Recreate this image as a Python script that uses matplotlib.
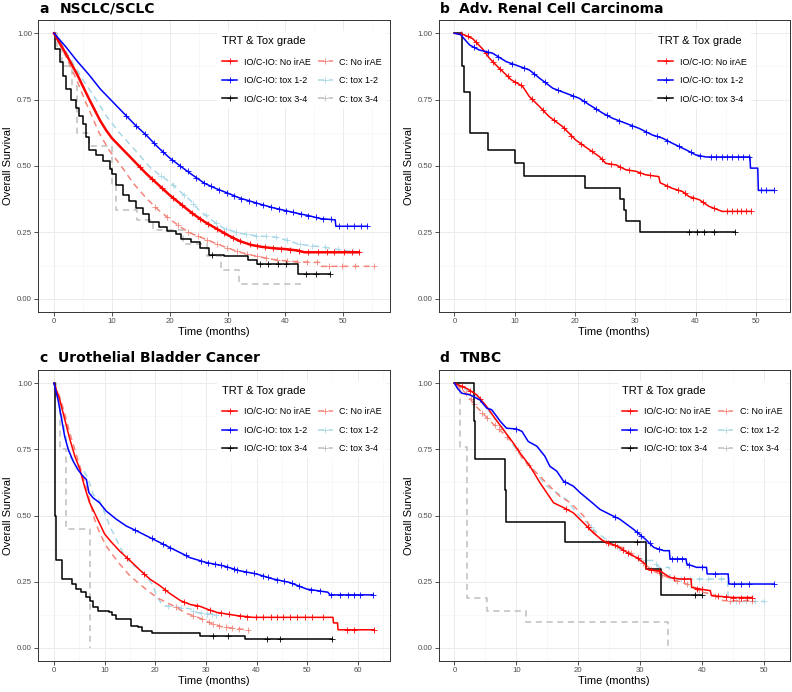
import numpy as np
import matplotlib
matplotlib.use("Agg")
import matplotlib.pyplot as plt
from matplotlib.lines import Line2D

plt.rcParams["font.family"] = ["Liberation Sans", "DejaVu Sans"]

# ---------------- Panel a: NSCLC/SCLC ----------------
a_red_t = [0, 2, 4, 6, 8, 9, 10, 12, 14, 16, 18, 20, 22, 24, 26, 28, 30, 32, 34, 36, 38, 40, 42, 43.3, 52.7]
a_red_s = [1.0, 0.925, 0.845, 0.755, 0.67, 0.635, 0.605, 0.56, 0.515, 0.47, 0.43, 0.39, 0.355, 0.32, 0.29, 0.265, 0.24, 0.218, 0.203, 0.195, 0.19, 0.187, 0.182, 0.175, 0.175]
a_red_c = [14.8, 16.9, 18.7, 20.6, 22.1, 23.8, 25.2, 26.6, 28.1, 29.4, 30.9, 32.2, 33.8, 35.1, 36.4, 37.9, 39.2, 40.8, 42.3, 43.9, 45.6, 47.1, 48.4, 50.2, 51.5, 52.7]

a_blue_t = [0, 2, 4, 6, 8, 10, 12, 14, 16, 18, 20, 22, 24, 26, 28, 30, 32, 34, 36, 38, 40, 42, 44, 46, 48.6, 48.7, 54.1]
a_blue_s = [1.0, 0.95, 0.895, 0.845, 0.79, 0.745, 0.7, 0.655, 0.615, 0.57, 0.53, 0.497, 0.465, 0.435, 0.415, 0.398, 0.38, 0.367, 0.354, 0.342, 0.332, 0.322, 0.313, 0.302, 0.297, 0.273, 0.273]
a_blue_c = [12.5, 14.2, 15.8, 17.3, 18.9, 20.4, 21.8, 23.1, 24.6, 25.9, 27.2, 28.6, 29.9, 31.1, 32.4, 33.7, 34.9, 36.2, 37.5, 38.8, 40.1, 41.3, 42.6, 43.9, 45.2, 46.5, 47.8, 49.3, 50.6, 51.8, 53.0, 54.1]

a_black_t = [0, 0.1, 1, 1.5, 2.1, 3, 3.8, 4.4, 5, 5.6, 6.1, 7.3, 8.4, 9.6, 10.1, 10.7, 11.9, 13, 14.1, 15.3, 16.4, 18.2, 19.5, 21, 22, 23.6, 25.3, 26.7, 29.3, 33.6, 35, 42.1, 47.7]
a_black_s = [1.0, 0.94, 0.89, 0.84, 0.79, 0.75, 0.72, 0.69, 0.66, 0.61, 0.56, 0.54, 0.52, 0.49, 0.47, 0.43, 0.39, 0.37, 0.34, 0.32, 0.29, 0.27, 0.255, 0.244, 0.225, 0.212, 0.19, 0.166, 0.16, 0.147, 0.129, 0.095, 0.095]
a_black_c = [27.3, 35.6, 37.0, 38.7, 40.1, 43.6, 45.3, 47.7]

a_salmon_t = [0, 2, 4, 5.3, 7.8, 9.5, 11.6, 13.7, 15.9, 18, 20, 22, 23.6, 26.4, 29.3, 32.1, 35, 37.9, 40.7, 44.7, 46.0, 46.1, 55.3]
a_salmon_s = [1.0, 0.915, 0.82, 0.75, 0.625, 0.56, 0.5, 0.435, 0.38, 0.335, 0.3, 0.268, 0.247, 0.222, 0.197, 0.175, 0.16, 0.148, 0.141, 0.137, 0.137, 0.122, 0.122]
a_salmon_c = [17.5, 19.6, 21.4, 23.2, 24.9, 26.5, 28.2, 29.9, 31.6, 33.3, 35.0, 36.7, 38.5, 40.2, 42.0, 43.8, 45.5, 47.6, 49.8, 52.0, 55.3]

a_lblue_t = [0, 1, 3.6, 5, 7.3, 9, 11.3, 14, 16.4, 18, 20, 22, 23.6, 25, 27, 29.3, 32, 35, 38, 40, 42.4, 46.4, 50, 51.6]
a_lblue_s = [1.0, 0.97, 0.875, 0.825, 0.75, 0.69, 0.625, 0.56, 0.5, 0.47, 0.44, 0.4, 0.37, 0.335, 0.3, 0.266, 0.247, 0.237, 0.233, 0.222, 0.205, 0.195, 0.182, 0.178]
a_lblue_c = [18.5, 20.5, 22.5, 24.1, 26.2, 28.0, 29.8, 31.5, 33.2, 34.9, 36.6, 38.4, 40.3, 42.5, 44.6, 46.8, 49.0, 51.6]

a_gray_t = [0, 0.6, 1.4, 3.1, 4.0, 6.0, 10.0, 10.8, 14.3, 17.1, 22.3, 26.5, 28.8, 31.9, 42.6]
a_gray_s = [1.0, 0.95, 0.875, 0.8, 0.625, 0.575, 0.43, 0.335, 0.295, 0.26, 0.205, 0.16, 0.11, 0.054, 0.054]

# ---------------- Panel b: Adv. Renal Cell Carcinoma ----------------
b_red_t = [0, 1.5, 3, 4.7, 5.8, 6.9, 8, 9.4, 11.3, 12.4, 14.1, 15.7, 17.9, 20.1, 22.4, 24, 25.1, 26.8, 28.4, 30.1, 31.7, 33.9, 34.1, 36.1, 37.8, 38.9, 40.6, 42.2, 44.4, 49.1]
b_red_s = [1.0, 0.995, 0.98, 0.94, 0.906, 0.88, 0.856, 0.825, 0.8, 0.762, 0.724, 0.686, 0.649, 0.598, 0.561, 0.536, 0.51, 0.504, 0.486, 0.48, 0.467, 0.46, 0.437, 0.416, 0.404, 0.385, 0.373, 0.348, 0.329, 0.329]
b_red_c = [1.0, 2.2, 3.5, 5.2, 6.4, 7.5, 8.8, 10.0, 11.0, 12.8, 14.6, 16.5, 18.2, 19.4, 21.0, 22.8, 24.4, 26.0, 27.5, 29.0, 30.8, 32.5, 35.2, 37.0, 38.2, 39.6, 41.2, 43.0, 45.2, 46.0, 46.8, 47.6, 48.4, 49.1]

b_blue_t = [0, 1, 2.5, 4.1, 6.3, 8.6, 10.2, 12.4, 14.1, 16.3, 18.5, 20.7, 22.4, 24.6, 26.2, 28.4, 30.6, 32.8, 34.5, 36.1, 38.4, 40, 41.7, 49.0, 49.1, 50.3, 50.4, 53.0]
b_blue_s = [1.0, 0.995, 0.956, 0.937, 0.925, 0.893, 0.88, 0.862, 0.831, 0.793, 0.774, 0.755, 0.73, 0.699, 0.68, 0.661, 0.642, 0.617, 0.605, 0.586, 0.561, 0.542, 0.534, 0.534, 0.492, 0.492, 0.408, 0.408]
b_blue_c = [3.2, 5.5, 7.3, 9.5, 11.5, 13.2, 15.0, 17.2, 19.6, 21.5, 23.5, 25.3, 27.3, 29.5, 31.7, 33.6, 35.3, 37.2, 39.2, 40.8, 42.5, 43.4, 44.3, 45.2, 46.1, 47.0, 47.9, 48.8, 50.9, 51.6, 53.0]

b_black_t = [0, 1.27, 1.66, 2.6, 5.6, 10.1, 11.5, 21.7, 27.5, 28.1, 28.5, 30.8, 46.6]
b_black_s = [1.0, 0.875, 0.778, 0.624, 0.561, 0.511, 0.461, 0.417, 0.376, 0.335, 0.294, 0.25, 0.25]
b_black_c = [38.9, 40.3, 41.4, 43.0, 46.6]

# ---------------- Panel c: Urothelial Bladder Cancer ----------------
c_red_t = [0, 1.1, 2.1, 3.1, 4.1, 5.1, 6.1, 7, 8, 9, 10, 11.3, 13, 15, 16.9, 18.9, 20.9, 22.9, 25, 27, 28.8, 30.1, 32.1, 34, 36, 39.3, 55.1, 55.2, 56, 56.1, 63.2]
c_red_s = [1.0, 0.94, 0.865, 0.79, 0.725, 0.675, 0.605, 0.55, 0.51, 0.47, 0.43, 0.4, 0.365, 0.33, 0.295, 0.26, 0.235, 0.205, 0.178, 0.163, 0.157, 0.147, 0.134, 0.128, 0.122, 0.115, 0.115, 0.094, 0.094, 0.068, 0.068]
c_red_c = [14.5, 17.8, 22.0, 25.7, 28.2, 30.8, 32.9, 34.5, 36.8, 38.2, 39.8, 41.2, 42.8, 44.1, 45.3, 46.7, 48.0, 49.5, 51.0, 53.2, 57.8, 59.2, 63.2]

c_blue_t = [0, 0.8, 1.4, 2.1, 2.8, 3.8, 4.7, 5.7, 6.4, 6.9, 7.7, 9, 10.3, 12.3, 14.3, 16.3, 18.9, 20.9, 23.5, 25.5, 26.8, 30.1, 33.4, 36.7, 40, 43.3, 46.5, 49.9, 54.1, 54.5, 63]
c_blue_s = [1.0, 0.937, 0.875, 0.8, 0.75, 0.705, 0.674, 0.649, 0.636, 0.586, 0.567, 0.548, 0.517, 0.486, 0.46, 0.442, 0.417, 0.398, 0.373, 0.354, 0.341, 0.322, 0.31, 0.291, 0.279, 0.26, 0.247, 0.222, 0.21, 0.2, 0.2]
c_blue_c = [16.0, 19.3, 21.5, 23.0, 26.0, 29.0, 30.5, 31.8, 33.0, 34.2, 35.5, 36.2, 38.0, 39.5, 41.3, 42.2, 44.0, 45.5, 47.0, 48.3, 50.8, 52.5, 54.8, 56.5, 58.0, 59.3, 60.5, 63.0]

c_black_t = [0, 0.15, 0.3, 0.45, 1.6, 3.5, 4.3, 5.3, 6.3, 7.1, 7.7, 8.6, 10.9, 11.5, 12.2, 15.2, 16.6, 17.4, 19.4, 28.8, 37.7, 55.0]
c_black_s = [1.0, 0.5, 0.375, 0.33, 0.26, 0.24, 0.222, 0.21, 0.191, 0.178, 0.153, 0.14, 0.134, 0.122, 0.109, 0.084, 0.078, 0.065, 0.056, 0.044, 0.034, 0.034]
c_black_c = [31.4, 34.4, 42.0, 44.6, 55.0]

c_salmon_t = [0, 1.1, 2.1, 3.1, 4.1, 5.1, 6.1, 7, 8, 9, 10.3, 11.7, 13, 15, 16.9, 18.9, 20.9, 23.5, 26.2, 28.8, 30, 33, 36, 38.3]
c_salmon_s = [1.0, 0.95, 0.887, 0.812, 0.75, 0.686, 0.624, 0.56, 0.486, 0.435, 0.385, 0.348, 0.316, 0.272, 0.241, 0.21, 0.184, 0.159, 0.13, 0.112, 0.1, 0.08, 0.072, 0.068]
c_salmon_c = [24.0, 27.5, 29.3, 30.6, 31.4, 32.5, 34.0, 35.2, 36.5, 38.3]

c_lblue_t = [0, 1.1, 2.1, 3.1, 4.4, 5.7, 6.7, 7.7, 9, 10, 11, 12.3, 13.6, 15.3, 16.9, 18.2, 19.6, 20.2, 21.5, 24.2, 27, 28, 32]
c_lblue_s = [1.0, 0.92, 0.82, 0.724, 0.686, 0.674, 0.642, 0.58, 0.555, 0.51, 0.46, 0.41, 0.36, 0.316, 0.297, 0.272, 0.235, 0.197, 0.16, 0.153, 0.147, 0.134, 0.125]
c_lblue_c = [22.5, 25.0, 27.5, 29.0, 30.2, 31.3, 32.0]

c_gray_t = [0, 0.3, 1.1, 2.3, 7.2]
c_gray_s = [1.0, 0.95, 0.75, 0.45, 0.0]

# ---------------- Panel d: TNBC ----------------
d_red_t = [0, 2, 3.6, 5.2, 6.3, 7.9, 9.5, 10.6, 12.2, 13.8, 14.9, 16, 17.6, 19.2, 20.8, 22.4, 24, 26.2, 28.3, 29.5, 30.8, 31, 33.2, 34.8, 36.4, 38.2, 38.3, 39.6, 41.3, 41.5, 45, 48.1]
d_red_s = [1.0, 0.98, 0.956, 0.912, 0.875, 0.824, 0.774, 0.736, 0.686, 0.624, 0.586, 0.548, 0.53, 0.51, 0.473, 0.435, 0.404, 0.385, 0.354, 0.34, 0.317, 0.297, 0.29, 0.266, 0.26, 0.26, 0.228, 0.222, 0.216, 0.197, 0.19, 0.19]
d_red_c = [1.2, 2.5, 4.1, 18.0, 21.5, 24.8, 26.0, 27.2, 28.0, 29.6, 31.8, 33.0, 35.5, 37.0, 39.2, 40.0, 42.5, 43.8, 45.0, 46.2, 47.2, 48.1]

d_blue_t = [0, 0.5, 1.2, 2.5, 4.1, 5.2, 6, 6.8, 7.4, 8.4, 10, 10.9, 11.9, 13.3, 14.6, 15.4, 16.5, 17.6, 19.2, 20.3, 21.9, 23.5, 25.1, 26.7, 28.9, 30.8, 32.2, 33.8, 34.7, 34.8, 37.4, 37.5, 39.1, 40.7, 40.8, 44.2, 44.3, 51.6]
d_blue_s = [1.0, 0.98, 0.962, 0.956, 0.937, 0.906, 0.9, 0.875, 0.856, 0.83, 0.827, 0.818, 0.78, 0.762, 0.724, 0.686, 0.668, 0.63, 0.611, 0.586, 0.555, 0.523, 0.504, 0.486, 0.448, 0.411, 0.379, 0.367, 0.367, 0.336, 0.336, 0.317, 0.304, 0.304, 0.279, 0.279, 0.241, 0.241]
d_blue_c = [10.0, 17.8, 26.0, 29.5, 30.2, 31.5, 33.0, 35.2, 36.0, 36.8, 37.9, 40.0, 42.0, 45.2, 46.3, 47.5, 51.6]

d_black_t = [0, 3.1, 3.3, 8.1, 8.3, 17.8, 30.9, 33.4, 40.0]
d_black_s = [1.0, 0.857, 0.714, 0.595, 0.476, 0.398, 0.298, 0.2, 0.2]
d_black_c = [29.4, 38.8, 40.0]

d_salmon_t = [0, 1.5, 3.6, 5.8, 7.9, 9.5, 11.1, 13.3, 15.4, 17, 18.7, 20.8, 23, 25.1, 27.3, 30, 32.1, 35, 38.3, 40, 41.5, 43.4, 48]
d_salmon_s = [1.0, 0.97, 0.91, 0.856, 0.81, 0.774, 0.71, 0.66, 0.61, 0.573, 0.548, 0.5, 0.42, 0.39, 0.378, 0.33, 0.29, 0.26, 0.235, 0.21, 0.204, 0.178, 0.178]
d_salmon_c = [0.8, 1.8, 2.6, 3.2, 4.5, 5.3, 6.5, 7.2, 8.5, 10.2, 12.0, 24.5, 26.2, 28.5, 30.5, 33.5, 36.0, 37.5, 39.5, 42.0, 44.5, 46.0, 48.0]

d_lblue_t = [0, 2, 4, 6, 8, 9.5, 11, 12.7, 14.9, 16.5, 18.1, 19.7, 20.8, 23, 25.1, 27, 29, 30.8, 32.1, 33, 34.7, 34.8, 44.1, 44.2, 50]
d_lblue_s = [1.0, 0.975, 0.945, 0.88, 0.825, 0.765, 0.72, 0.674, 0.611, 0.586, 0.56, 0.51, 0.486, 0.435, 0.4, 0.37, 0.345, 0.33, 0.33, 0.304, 0.304, 0.26, 0.26, 0.175, 0.175]
d_lblue_c = [22.0, 26.5, 31.0, 32.5, 36.5, 38.0, 39.5, 41.0, 43.0, 45.5, 47.0, 48.5, 50.0]

d_gray_t = [0, 0.9, 2.0, 5.2, 11.6, 34.5]
d_gray_s = [1.0, 0.76, 0.187, 0.14, 0.097, 0.0]

# ---------------- styling ----------------
RED, BLUE, BLACK = "#FF0000", "#0000FF", "#000000"
SALMON, LBLUE, GRAY = "#F4857A", "#A9D8E6", "#BEBEBE"
DASH = (0, (4, 3))
labels = ["IO/C-IO: No irAE", "IO/C-IO: tox 1-2", "IO/C-IO: tox 3-4",
          "C: No irAE", "C: tox 1-2", "C: tox 3-4"]
colors = [RED, BLUE, BLACK, SALMON, LBLUE, GRAY]
styles = ["-", "-", "-", DASH, DASH, DASH]


def draw(ax, t, s, color, ls, cens=None, step=False, lw=1.1):
    t = np.asarray(t, float)
    s = np.asarray(s, float)
    ax.plot(t, s, color=color, linestyle=ls, lw=lw,
            drawstyle="steps-post" if step else "default", zorder=3)
    if cens:
        c = np.asarray(cens, float)
        if step:
            y = s[np.searchsorted(t, c, side="right") - 1]
        else:
            y = np.interp(c, t, s)
        ax.plot(c, y, "+", color=color, ms=4, mew=0.6, zorder=3)


def style_axes(ax, xmax, xticks):
    pad = 0.05 * xmax
    ax.set_xlim(-pad, xmax + pad)
    ax.set_ylim(-0.05, 1.05)
    ax.set_xticks(xticks)
    minor = [x + 5 for x in xticks if x + 5 < xmax + pad]
    ax.set_xticks(minor, minor=True)
    ax.set_yticks([0, 0.25, 0.5, 0.75, 1.0])
    ax.set_yticklabels(["0.00", "0.25", "0.50", "0.75", "1.00"])
    ax.set_yticks([0.125, 0.375, 0.625, 0.875], minor=True)
    ax.grid(which="major", color="#EBEBEB", lw=0.7)
    ax.grid(which="minor", color="#F3F3F3", lw=0.4)
    ax.set_axisbelow(True)
    ax.tick_params(which="major", length=2.8, width=0.6, color="#333333",
                   labelsize=5.6, labelcolor="#4D4D4D", pad=1.5)
    ax.tick_params(which="minor", length=0)
    for sp in ax.spines.values():
        sp.set_color("#333333")
        sp.set_linewidth(0.7)
    ax.set_xlabel("Time (months)", fontsize=8)
    ax.set_ylabel("Overall Survival", fontsize=8)
    ax.xaxis.set_label_coords(0.5, -0.05)
    ax.yaxis.set_label_coords(-0.07, 0.5)


def add_legend(ax, n):
    handles = [Line2D([], [], color=colors[i], linestyle=styles[i], lw=1.1,
                      marker="+", ms=4, mew=0.6) for i in range(n)]
    leg = ax.legend(handles, labels[:n], title="TRT & Tox grade", loc="center",
                    bbox_to_anchor=(0.75, 0.83), ncol=1 if n == 3 else 2,
                    fontsize=6.5, title_fontsize=8, frameon=True, fancybox=False,
                    edgecolor="none", facecolor="white", framealpha=1,
                    numpoints=1, handlelength=1.7, handletextpad=0.7,
                    columnspacing=0.8, labelspacing=1.05, borderpad=0.5,
                    alignment="left")
    leg._legend_box.sep = 8.5
    leg.set_zorder(5)


W, H = 792, 692
fig = plt.figure(figsize=(W / 100, H / 100), dpi=100)
ax_a = fig.add_axes([38 / W, (H - 312) / H, 352 / W, 292 / H])
ax_b = fig.add_axes([438.5 / W, (H - 312) / H, 351.5 / W, 292 / H])
ax_c = fig.add_axes([38 / W, 31 / H, 352 / W, 291 / H])
ax_d = fig.add_axes([438.5 / W, 31 / H, 351.5 / W, 291 / H])

# panel a
draw(ax_a, a_gray_t, a_gray_s, GRAY, DASH, step=True)
draw(ax_a, a_lblue_t, a_lblue_s, LBLUE, DASH, a_lblue_c)
draw(ax_a, a_salmon_t, a_salmon_s, SALMON, DASH, a_salmon_c)
draw(ax_a, a_black_t, a_black_s, BLACK, "-", a_black_c, step=True)
draw(ax_a, a_red_t, a_red_s, RED, "-", a_red_c, lw=1.8)
draw(ax_a, a_blue_t, a_blue_s, BLUE, "-", a_blue_c)
style_axes(ax_a, max(a_salmon_t), [0, 10, 20, 30, 40, 50])
add_legend(ax_a, 6)

# panel b
draw(ax_b, b_black_t, b_black_s, BLACK, "-", b_black_c, step=True)
draw(ax_b, b_red_t, b_red_s, RED, "-", b_red_c)
draw(ax_b, b_blue_t, b_blue_s, BLUE, "-", b_blue_c)
style_axes(ax_b, max(b_blue_t), [0, 10, 20, 30, 40, 50])
add_legend(ax_b, 3)

# panel c
draw(ax_c, c_gray_t, c_gray_s, GRAY, DASH, step=True)
draw(ax_c, c_lblue_t, c_lblue_s, LBLUE, DASH, c_lblue_c)
draw(ax_c, c_salmon_t, c_salmon_s, SALMON, DASH, c_salmon_c)
draw(ax_c, c_black_t, c_black_s, BLACK, "-", c_black_c, step=True)
draw(ax_c, c_red_t, c_red_s, RED, "-", c_red_c)
draw(ax_c, c_blue_t, c_blue_s, BLUE, "-", c_blue_c)
style_axes(ax_c, max(c_red_t), [0, 10, 20, 30, 40, 50, 60])
add_legend(ax_c, 6)

# panel d
draw(ax_d, d_gray_t, d_gray_s, GRAY, DASH, step=True)
draw(ax_d, d_lblue_t, d_lblue_s, LBLUE, DASH, d_lblue_c)
draw(ax_d, d_salmon_t, d_salmon_s, SALMON, DASH, d_salmon_c)
draw(ax_d, d_black_t, d_black_s, BLACK, "-", d_black_c, step=True)
draw(ax_d, d_red_t, d_red_s, RED, "-", d_red_c)
draw(ax_d, d_blue_t, d_blue_s, BLUE, "-", d_blue_c)
style_axes(ax_d, max(d_blue_t), [0, 10, 20, 30, 40, 50])
add_legend(ax_d, 6)

# panel titles
title_kw = dict(fontsize=10, fontweight="bold", family="DejaVu Sans", va="baseline")
for lx, tx, yb, letter, name in [(39, 59.5, 13, "a", "NSCLC/SCLC"),
                                  (439.5, 459.5, 13, "b", "Adv. Renal Cell Carcinoma"),
                                  (39, 58.5, 362.5, "c", "Urothelial Bladder Cancer"),
                                  (439.5, 459.5, 362.5, "d", "TNBC")]:
    fig.text(lx / W, 1 - yb / H, letter, **title_kw)
    fig.text(tx / W, 1 - yb / H, name, **title_kw)

fig.savefig("out.png", dpi=100)
